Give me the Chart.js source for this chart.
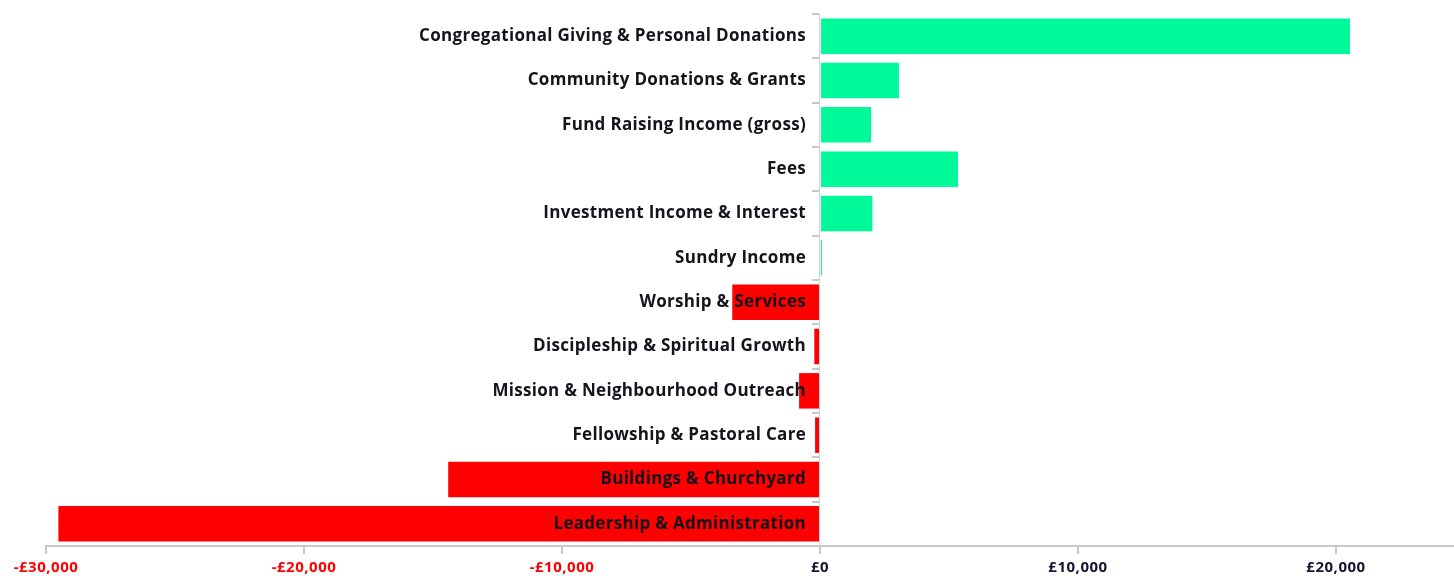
<!DOCTYPE html>
<html lang="en">
<head>
    <meta charset="UTF-8">
    <title>Income and Expenditure Variance</title>
    <style>
        html, body{
            margin: 0;
            padding: 0;
            background: #ffffff;
            overflow: hidden;
        }
    </style>
</head>
<body>
    <canvas id="grafik-variance" width="1454" height="576"></canvas>

    <script src="https://cdn.jsdelivr.net/npm/chart.js"></script>

    <script>
        const categories = [
            "Congregational Giving & Personal Donations",
            "Community Donations & Grants",
            "Fund Raising Income (gross)",
            "Fees",
            "Investment Income & Interest",
            "Sundry Income",
            "Worship & Services",
            "Discipleship & Spiritual Growth",
            "Mission & Neighbourhood Outreach",
            "Fellowship & Pastoral Care",
            "Buildings & Churchyard",
            "Leadership & Administration"
        ]
        const variance = [20540, 3060, 1980, 5350, 2030, 80, -3400, -220, -810, -190, -14410, -29520]
        const tickValues = [-30000, -20000, -10000, 0, 10000, 20000]

        const barColors = variance.map(v => v >= 0 ? "#00fa9a" : "#ff0000")

        function money(v){
            return (v < 0 ? "-£" : "£") + Math.abs(v).toLocaleString("en-GB")
        }

        // category names sit left of the zero line, on top of the bars
        const categoryLabels = {
            id: 'categoryLabels',
            beforeDraw(chart){
                chart.ctx.letterSpacing = '0.5px'
            },
            afterDatasetsDraw(chart){
                const c = chart.ctx
                const xs = chart.scales.x
                const ys = chart.scales.y
                const x0 = xs.getPixelForValue(0) - 14
                c.save()
                c.font = "bold 17px 'Open Sans'"
                c.letterSpacing = '0.3px'
                c.fillStyle = '#14141c'
                c.textAlign = 'right'
                c.textBaseline = 'middle'
                categories.forEach((name, i) => {
                    c.fillText(name, x0, ys.getPixelForValue(i))
                })
                c.restore()
            }
        }

        const ctx = document.getElementById('grafik-variance');

        new Chart(ctx, {
            type: 'bar',
            data: {
                labels: categories,
                datasets: [{
                    label: 'variance',
                    data: variance,
                    backgroundColor: barColors,
                    borderWidth: 0,
                    barPercentage: 0.8,
                    categoryPercentage: 1.0
                }]
            },
            plugins: [categoryLabels],
            options: {
                indexAxis: 'y',
                responsive: false,
                animation: false,
                layout: {
                    padding: { top: 14, left: 46, right: 0, bottom: 0 }
                },
                plugins: {
                    legend: { display: false },
                    tooltip: { enabled: false }
                },
                scales: {
                    x: {
                        min: -30000,
                        max: 24574,
                        afterBuildTicks: function(scale){
                            scale.ticks = tickValues.map(v => ({ value: v }))
                        },
                        afterFit: function(scale){
                            scale.height = 30
                        },
                        border: { color: '#c8c8c8', width: 2 },
                        grid: {
                            drawOnChartArea: false,
                            tickLength: 8,
                            color: '#c8c8c8',
                            lineWidth: 2
                        },
                        ticks: {
                            padding: 5,
                            font: { family: "Open Sans", size: 15, weight: 'bold' },
                            color: function(c){
                                return c.tick.value < 0 ? '#ff0000' : '#141433'
                            },
                            callback: function(value){
                                return money(value)
                            }
                        }
                    },
                    y: {
                        position: { x: 0 },
                        border: { color: '#d0d0d0', width: 1 },
                        grid: {
                            drawOnChartArea: false,
                            offset: true,
                            tickLength: 7,
                            color: '#c8c8c8',
                            lineWidth: 2
                        },
                        ticks: {
                            display: false
                        }
                    }
                }
            }
        });
    </script>
</body>
</html>
